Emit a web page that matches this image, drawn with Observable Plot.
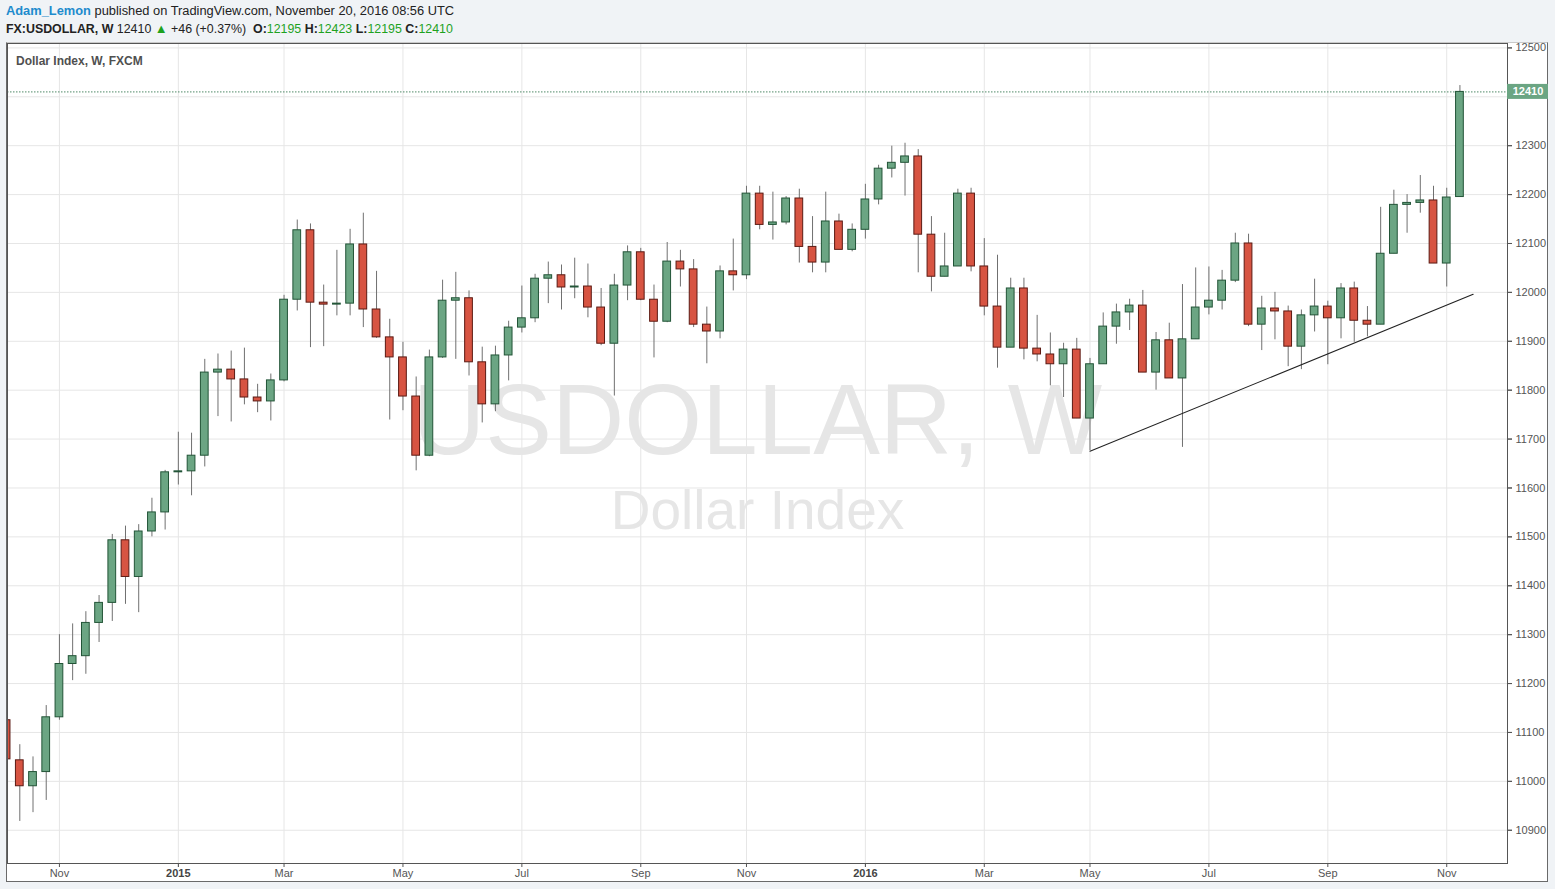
<!DOCTYPE html>
<html>
<head>
<meta charset="utf-8">
<script src="https://cdn.jsdelivr.net/npm/d3@7"></script>
<script src="https://cdn.jsdelivr.net/npm/@observablehq/plot@0.6"></script>
<style>
  html, body { margin: 0; padding: 0; background: #f0f3f6; }
  body { width: 1555px; height: 889px; position: relative; overflow: hidden; font-family: "Liberation Sans", Arial, sans-serif; }
  .hdr { position: absolute; left: 6px; color: #222; white-space: nowrap; }
  #hdr1 { top: 3px; font-size: 12.85px; }
  #hdr2 { top: 21px; font-size: 12.4px; }
  .user { color: #1e8bcd; font-weight: bold; }
  .b { font-weight: bold; }
  .g { color: #1ea21e; }
  .tri { color: #1ea21e; font-size: 13px; }
  #pane { position: absolute; left: 6px; top: 42px; width: 1542px; height: 840px; box-sizing: border-box; background: #fff; border: 1px solid #6a6a6a; border-top-color: #c9c9c9; }
  #chart { position: absolute; left: 0; top: -6px; }
  #legend { position: absolute; left: 9px; top: 11px; font-size: 12px; font-weight: bold; color: #505050; }
</style>
</head>
<body>
<div id="hdr1" class="hdr"><span class="user">Adam_Lemon</span> published on TradingView.com, November 20, 2016 08:56 UTC</div>
<div id="hdr2" class="hdr"><span class="b">FX:USDOLLAR, W</span> 12410 <span class="tri">&#9650;</span> +46 (+0.37%) &nbsp;<span class="b">O:</span><span class="g">12195</span> <span class="b">H:</span><span class="g">12423</span> <span class="b">L:</span><span class="g">12195</span> <span class="b">C:</span><span class="g">12410</span></div>
<div id="pane"><div id="chart"></div><div id="legend">Dollar Index, W, FXCM</div></div>
<script>
// ---- data (weekly candles, first week starting 2014-10-06) ----
const firstWeek = "2014-10-06";
const opens = [11125,11043,10990,11019,11131,11240,11256,11324,11365,11493,11418,11511,11550,11632,11634,11666,11836,11842,11822,11785,11777,11820,11985,12127,11979,11975,11977,12098,11965,11908,11867,11787,11666,11867,11983,11988,11857,11771,11871,11928,11947,12028,12035,12010,12012,11969,11895,12014,12082,11985,11940,12063,12047,11934,11920,12043,12035,12202,12138,12143,12192,12093,12061,12145,12087,12128,12190,12253,12265,12278,12118,12032,12053,12202,12053,11971,11887,12008,11885,11873,11853,11883,11742,11853,11930,11959,11973,11836,11902,11824,11904,11969,11983,12024,12100,11934,11967,11961,11889,11953,11971,11947,12008,11942,11934,12079,12179,12183,12188,12059,12195];
const highs = [11140,11075,11050,11155,11300,11322,11347,11380,11505,11522,11525,11579,11636,11714,11712,11863,11874,11880,11886,11812,11833,11994,12148,12140,12015,12086,12129,12162,12043,11945,11898,11827,11882,12025,12041,12003,11888,11890,11941,12013,12037,12062,12056,12070,12058,12008,12037,12095,12090,12015,12102,12086,12067,11970,12054,12109,12217,12217,12205,12196,12211,12155,12205,12160,12140,12221,12260,12299,12305,12292,12155,12121,12211,12213,12110,12076,12029,12029,11953,11917,11896,11906,11865,11958,11976,11986,12004,11918,11937,12016,12050,12052,12045,12121,12119,11992,12000,11972,11964,12027,11982,12018,12021,11971,12174,12209,12200,12239,12217,12213,12423];
const lows = [11030,10918,10936,10961,11125,11206,11219,11284,11327,11362,11345,11500,11514,11606,11584,11643,11746,11735,11770,11754,11737,11817,11962,11887,11889,11952,11952,11928,11906,11739,11758,11635,11664,11865,11863,11829,11733,11756,11819,11917,11938,11977,11964,11987,11948,11891,11788,11983,11983,11866,11938,12011,11928,11854,11905,12003,12026,12128,12107,12138,12060,12040,12040,12087,12083,12109,12179,12234,12197,12040,12001,12032,12053,12042,11952,11845,11887,11862,11858,11809,11785,11742,11676,11853,11894,11922,11836,11800,11824,11683,11904,11954,11964,12020,11930,11881,11903,11848,11842,11919,11852,11905,11898,11909,11934,12079,12121,12162,12059,12011,12195];
const closes = [11045,10990,11019,11131,11240,11256,11324,11365,11493,11418,11511,11550,11632,11634,11666,11836,11842,11822,11785,11777,11820,11985,12127,11979,11975,11977,12098,11965,11908,11867,11787,11666,11867,11983,11988,11857,11771,11871,11928,11947,12028,12035,12010,12012,11969,11895,12014,12082,11985,11940,12063,12047,11934,11920,12043,12035,12202,12138,12143,12192,12093,12061,12145,12087,12128,12190,12253,12265,12278,12118,12032,12053,12202,12053,11971,11887,12008,11885,11873,11853,11883,11742,11853,11930,11959,11973,11836,11902,11824,11904,11969,11983,12024,12100,11934,11967,11961,11889,11953,11971,11947,12008,11942,11934,12079,12179,12183,12188,12059,12194,12410];

const tickWeeks = ["2014-11-03","2015-01-05","2015-03-02","2015-05-04","2015-07-06","2015-09-07","2015-11-02","2016-01-04","2016-03-07","2016-05-02","2016-07-04","2016-09-05","2016-11-07"];
const tickLabels = ["Nov","2015","Mar","May","Jul","Sep","Nov","2016","Mar","May","Jul","Sep","Nov"];
const priceTicks = [10900,11000,11100,11200,11300,11400,11500,11600,11700,11800,11900,12000,12100,12200,12300,12400,12500];
// the 12400 label sits under the last-price tag in the original
const priceLabels = [10900,11000,11100,11200,11300,11400,11500,11600,11700,11800,11900,12000,12100,12200,12300,12500];

const trendWeeks = ["2016-05-02","2016-11-21"];
const trendValues = [11675, 11996];

const lastClose = closes[closes.length - 1];

// ---- build table ----
const DAY = 864e5;
const t0 = new Date(firstWeek + "T00:00:00Z");
const rows = opens.map((o, i) => ({
  date: new Date(+t0 + i * 7 * DAY),
  open: o, high: highs[i], low: lows[i], close: closes[i],
  up: closes[i] >= o
}));
const ticks = tickWeeks.map(s => new Date(s + "T00:00:00Z"));
const yearTicks = ticks.filter((d, i) => /^\d{4}$/.test(tickLabels[i]));
const monthTicks = ticks.filter((d, i) => !/^\d{4}$/.test(tickLabels[i]));
const labelOf = d => tickLabels[ticks.findIndex(t => +t === +d)];
const trend = trendWeeks.map((s, i) => ({date: new Date(s + "T00:00:00Z"), value: trendValues[i]}));

const HALF = 2.05 * DAY;
const xDomain = [new Date(+t0 + 0.069 * 7 * DAY), new Date(+t0 + 113.6 * 7 * DAY)];

const GREEN = "#6ba583", GREEN_S = "#225437", RED = "#d75442", RED_S = "#5b1a13";

const chart = Plot.plot({
  width: 1540,
  height: 844,
  marginLeft: 0,
  marginTop: 6,
  marginRight: 40,
  marginBottom: 18,
  style: {background: "transparent", fontFamily: "'Liberation Sans', Arial, sans-serif", overflow: "visible"},
  x: {type: "utc", domain: xDomain},
  y: {domain: [10832, 12509]},
  marks: [
    Plot.gridY(priceTicks, {stroke: "#e6e6e6", strokeOpacity: 1}),
    Plot.gridX(ticks, {stroke: "#e6e6e6", strokeOpacity: 1}),
    Plot.text(["USDOLLAR, W"], {frameAnchor: "middle", dy: -32, fontSize: 100, fill: "#e6e6e6"}),
    Plot.text(["Dollar Index"], {frameAnchor: "middle", dy: 58, fontSize: 55, fill: "#e6e6e6"}),
    Plot.ruleY([lastClose], {stroke: "#4f8a68", strokeDasharray: "1.5,1.5", strokeWidth: 1}),
    Plot.ruleX(rows, {x: "date", y1: "low", y2: "high", stroke: "#707070", strokeWidth: 1, clip: true}),
    Plot.rect(rows, {
      x1: d => new Date(+d.date - HALF),
      x2: d => new Date(+d.date + HALF),
      y1: "open", y2: "close",
      fill: d => d.up ? GREEN : RED,
      stroke: d => d.up ? GREEN_S : RED_S,
      strokeWidth: 1,
      clip: true
    }),
    Plot.line(trend, {x: "date", y: "value", stroke: "#222", strokeWidth: 1.1}),
    Plot.axisY(priceTicks, {anchor: "right", tickSize: 4, text: null, label: null, color: "#555"}),
    Plot.axisY(priceLabels, {anchor: "right", tickSize: 4, tickPadding: 4, label: null, fontSize: 11, color: "#555", tickFormat: d => String(d)}),
    Plot.axisX(monthTicks, {anchor: "bottom", tickSize: 4, tickPadding: 2, label: null, fontSize: 11, color: "#555", tickFormat: labelOf}),
    Plot.axisX(yearTicks, {anchor: "bottom", tickSize: 4, tickPadding: 2, label: null, fontSize: 11, fontWeight: "bold", color: "#444", tickFormat: labelOf}),
    Plot.frame({stroke: "#555"})
  ]
});

// price label box on the right axis
const svg = d3.select(chart);
const yPos = chart.scale("y").apply(lastClose);
const g = svg.append("g");
g.append("rect").attr("x", 1500).attr("y", yPos - 7.5).attr("width", 41).attr("height", 15).attr("fill", GREEN);
g.append("text").attr("x", 1521).attr("y", yPos).attr("dy", "0.36em").attr("text-anchor", "middle")
  .attr("fill", "#fff").attr("font-weight", "bold").attr("font-size", 11).text(String(lastClose));

document.getElementById("chart").appendChild(chart);
</script>
</body>
</html>
